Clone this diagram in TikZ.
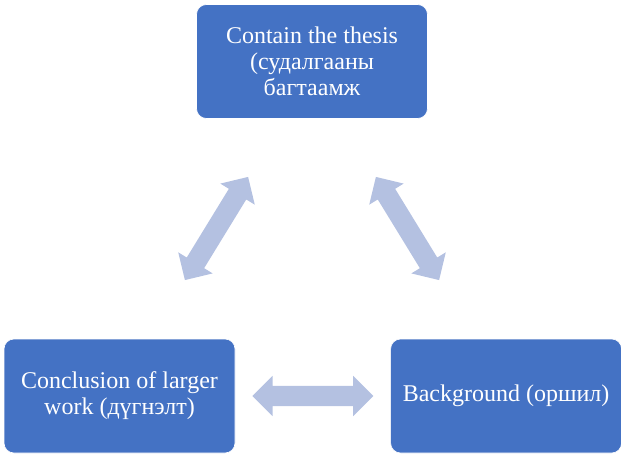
\documentclass[tikz,border=0pt]{standalone}
\usepackage{fontspec}
\setmainfont{Liberation Serif}
\usetikzlibrary{calc,positioning,shapes.arrows}
\definecolor{boxblue}{HTML}{4472C4}
\definecolor{arrowblue}{HTML}{B4C1E1}
\tikzset{
    topic/.style={rounded corners=10pt, fill=boxblue, draw=white, line width=0.6pt,
        minimum width=231pt, minimum height=114pt, text=white, align=center,
        font=\fontsize{24}{26}\selectfont},
    link/.style={double arrow, fill=arrowblue, draw=none, inner xsep=0pt, inner ysep=10pt,
        minimum height=121pt, minimum width=40pt, double arrow head extend=10pt}
}
\begin{document}
\begin{tikzpicture}[x=1pt,y=1pt]
    \useasboundingbox (0,0) rectangle (621,456);
    \node[topic] (thesis) at (312,394.5) {Contain the thesis\\(судалгааны\\багтаамж};
    \node[topic] (conclusion) at (119.5,60) {Conclusion of larger\\work (дүгнэлт)};
    \node[topic] (background) [right=155pt of conclusion] {Background (оршил)};

    \node[link, rotate=58.5] (leftlink) at (216.5,227.5) {};
    \node[link, rotate=-58.5] (rightlink) at (407.5,227.5) {};
    \node[link] (bottomlink) at ($(conclusion)!.5!(background)$) {};
\end{tikzpicture}
\end{document}
